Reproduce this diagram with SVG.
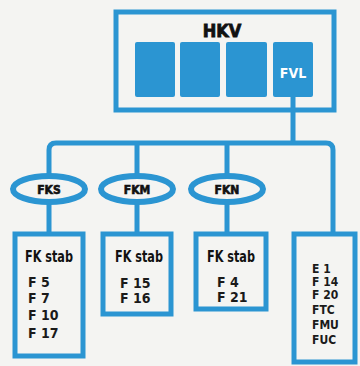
<svg xmlns="http://www.w3.org/2000/svg" width="360" height="366" viewBox="0 0 360 366">
<style>
.ln{fill:none;stroke:#2b95d2;stroke-width:5;stroke-linejoin:round;stroke-linecap:butt}
.box{fill:none;stroke:#2b95d2;stroke-width:5}
.ell{fill:#f4f4f2;stroke:#2b95d2;stroke-width:6}
.sq{fill:#2b95d2}
.hd{font-family:"DejaVu Sans Condensed","DejaVu Sans",sans-serif;font-weight:bold;fill:#111}
.it{font-family:"DejaVu Sans Condensed","DejaVu Sans",sans-serif;font-size:14px;font-weight:bold;fill:#1a1a1a}
.it2{font-family:"DejaVu Sans Condensed","DejaVu Sans",sans-serif;font-size:12px;font-weight:bold;fill:#1a1a1a}
</style>
<rect width="360" height="366" fill="#f4f4f2"/>
<g id="connectors">
<path class="ln" d="M293 95 V143"/>
<path class="ln" d="M49 176 V150 Q49 143 56 143 H326 Q333 143 333 150 V233"/>
<path class="ln" d="M137 143 V176"/>
<path class="ln" d="M227 143 V176"/>
<path class="ln" d="M49 202 V233"/>
<path class="ln" d="M137 202 V233"/>
<path class="ln" d="M227 202 V233"/>
</g>
<g id="HKV">
<rect class="box" x="116" y="12" width="218" height="98"/>
<text class="hd" x="222" y="37" font-size="18" text-anchor="middle" stroke="#111" stroke-width="0.8">HKV</text>
<rect class="sq" x="135" y="42" width="40" height="55" rx="2"/>
<rect class="sq" x="180" y="42" width="40" height="55" rx="2"/>
<rect class="sq" x="226" y="42" width="41" height="55" rx="2"/>
<rect class="sq" x="273" y="42" width="40" height="55" rx="2"/>
<text x="293" y="78" font-family="'DejaVu Sans Condensed','DejaVu Sans',sans-serif" font-size="14" font-weight="bold" fill="#fff" text-anchor="middle">FVL</text>
</g>
<g id="FKS">
<ellipse class="ell" cx="49" cy="189" rx="36" ry="13"/>
<text class="hd" x="49" y="194" font-size="12" text-anchor="middle" stroke="#111" stroke-width="0.6">FKS</text>
</g>
<g id="FKM">
<ellipse class="ell" cx="137" cy="189" rx="36" ry="13"/>
<text class="hd" x="137" y="194" font-size="12" text-anchor="middle" stroke="#111" stroke-width="0.6">FKM</text>
</g>
<g id="FKN">
<ellipse class="ell" cx="227" cy="189" rx="36" ry="13"/>
<text class="hd" x="227" y="194" font-size="12" text-anchor="middle" stroke="#111" stroke-width="0.6">FKN</text>
</g>
<g id="box1">
<rect class="box" x="15" y="234" width="68" height="122"/>
<text class="hd" x="25" y="262" font-size="15" textLength="48" lengthAdjust="spacingAndGlyphs">FK stab</text>
<text class="it" x="28" y="287">F 5</text>
<text class="it" x="28" y="303">F 7</text>
<text class="it" x="28" y="320">F 10</text>
<text class="it" x="28" y="338">F 17</text>
</g>
<g id="box2">
<rect class="box" x="103" y="234" width="68" height="80"/>
<text class="hd" x="115" y="262" font-size="15" textLength="48" lengthAdjust="spacingAndGlyphs">FK stab</text>
<text class="it" x="120" y="288">F 15</text>
<text class="it" x="120" y="303">F 16</text>
</g>
<g id="box3">
<rect class="box" x="196" y="234" width="70" height="75"/>
<text class="hd" x="207" y="262" font-size="15" textLength="48" lengthAdjust="spacingAndGlyphs">FK stab</text>
<text class="it" x="217" y="287">F 4</text>
<text class="it" x="217" y="302">F 21</text>
</g>
<g id="box4">
<rect class="box" x="294" y="234" width="61" height="128"/>
<text class="it2" x="312" y="273">E 1</text>
<text class="it2" x="312" y="286">F 14</text>
<text class="it2" x="312" y="299">F 20</text>
<text class="it2" x="312" y="314">FTC</text>
<text class="it2" x="312" y="329">FMU</text>
<text class="it2" x="312" y="344">FUC</text>
</g>
</svg>
